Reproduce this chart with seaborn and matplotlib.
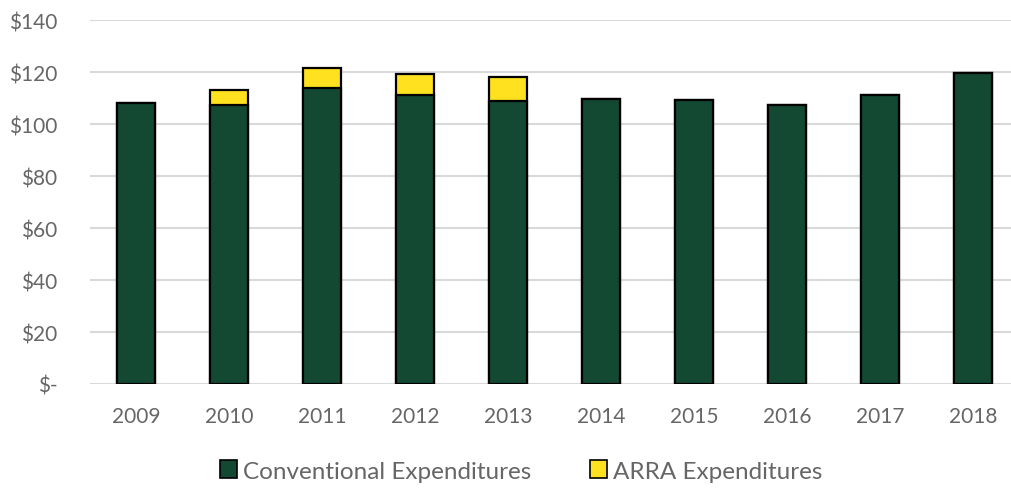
import matplotlib
matplotlib.use("Agg")
import matplotlib.pyplot as plt
import seaborn as sns
import pandas as pd
from matplotlib.patches import Patch

years = ["2009", "2010", "2011", "2012", "2013", "2014", "2015", "2016", "2017", "2018"]
conventional = [108.0, 107.5, 114.0, 111.3, 109.0, 109.7, 109.1, 107.4, 111.3, 119.5]
arra = [0.0, 5.6, 7.7, 8.0, 9.1, 0.0, 0.0, 0.0, 0.0, 0.0]
y_ticks = [0, 20, 40, 60, 80, 100, 120, 140]
y_labels = ["$-", "$20", "$40", "$60", "$80", "$100", "$120", "$140"]
series_names = ["Conventional Expenditures", "ARRA Expenditures"]

GREEN = "#134833"
YELLOW = "#FFE120"
TEXT = "#666666"

sns.set_theme(style="white")
plt.rcParams["font.family"] = ["Lato", "DejaVu Sans"]

df = pd.DataFrame({"year": years, "conv": conventional,
                   "total": [c + a for c, a in zip(conventional, arra)]})

fig = plt.figure(figsize=(10.11, 4.89), dpi=100)
ax = fig.add_axes([89.5 / 1011, 104 / 489, 930 / 1011, 364 / 489])

sns.barplot(data=df, x="year", y="total", color=YELLOW, width=0.41,
            edgecolor="black", linewidth=1.6, saturation=1, ax=ax, zorder=3)
sns.barplot(data=df, x="year", y="conv", color=GREEN, width=0.41,
            edgecolor="black", linewidth=1.6, saturation=1, ax=ax, zorder=4)

ax.set_ylim(0, 140)
ax.set_xlim(-0.5, 9.5)
ax.set_yticks(y_ticks)
ax.set_yticklabels(y_labels)
ax.yaxis.grid(True, color="#d9d9d9", linewidth=1.5, zorder=0)
ax.set_axisbelow(True)
for s in ax.spines.values():
    s.set_visible(False)
ax.set_xlabel("")
ax.set_ylabel("")
ax.tick_params(axis="y", length=0, pad=23, labelsize=15, labelcolor=TEXT)
ax.tick_params(axis="x", length=0, pad=16, labelsize=15, labelcolor=TEXT)

handles = [Patch(facecolor=GREEN, edgecolor="black", linewidth=1.2),
           Patch(facecolor=YELLOW, edgecolor="black", linewidth=1.2)]
leg = fig.legend(handles, series_names, loc="center", bbox_to_anchor=(521 / 1011, 1 - 472 / 489),
                 ncol=2, frameon=False, fontsize=17.5, handlelength=0.7, handleheight=0.7,
                 handletextpad=0.25, columnspacing=2.4, labelcolor=TEXT)

fig.savefig("out.png", dpi=100)
